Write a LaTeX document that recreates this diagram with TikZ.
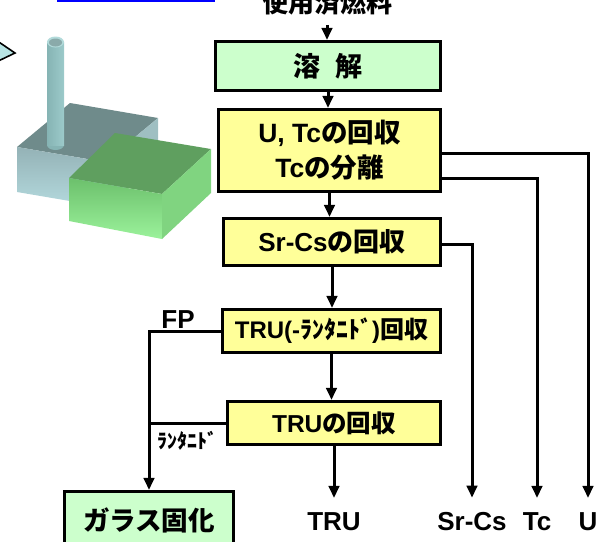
\documentclass[tikz,border=0pt]{standalone}
\usepackage{fontspec}
\setmainfont{Liberation Sans}
\newfontfamily\jp{Noto Sans CJK JP}
\usetikzlibrary{arrows.meta}
\definecolor{boxyellow}{HTML}{FFFF99}
\definecolor{boxgreen}{HTML}{CCFFCC}
\definecolor{linkblue}{HTML}{0000FF}
\definecolor{pointer}{HTML}{B8E4E4}
\definecolor{gtop}{HTML}{6F8B8B}
\definecolor{gfrontA}{HTML}{94B2B6}
\definecolor{gfrontB}{HTML}{B4DADE}
\definecolor{gside}{HTML}{9FBFC2}
\definecolor{ntop}{HTML}{5F9F5F}
\definecolor{nfrontA}{HTML}{6CC06C}
\definecolor{nfrontB}{HTML}{9BF29B}
\definecolor{nside}{HTML}{80D480}
\definecolor{cylL}{HTML}{86B4B4}
\definecolor{cylM}{HTML}{C6ECEC}
\definecolor{cylR}{HTML}{9CCACA}
\definecolor{cyltop}{HTML}{8AAAAA}
\newcommand\jj[1]{{\jp #1}}
\newcommand\fs[1]{\fontsize{#1}{#1}\selectfont\bfseries}

\begin{document}
\begin{tikzpicture}[x=1pt, y=-1pt,
  stepbox/.style={draw=black, line width=3.2pt, inner sep=0pt, align=center},
  yellowbox/.style={stepbox, fill=boxyellow},
  greenbox/.style={stepbox, fill=boxgreen},
  flow/.style={line width=3pt, -{Triangle[length=12pt, width=10.5pt]}},
  link/.style={line width=3pt},
  outlabel/.style={inner xsep=0pt, inner ysep=14pt, anchor=base, font=\fs{26}},
  tag/.style={inner sep=0pt}
]
\path[use as bounding box] (0,0) rectangle (597,541);
\clip (0,0) rectangle (597,541);

% link underline and pointer
\fill[linkblue] (57,0) rectangle (215,2);
\filldraw[fill=pointer, draw=black, line width=1.6pt, line join=miter]
  (-10,36) -- (15,53) -- (-10,65) -- cycle;

% plant: grey building
\fill[gtop] (17,147) -- (70,103) -- (158,118) -- (105,162) -- cycle;
\shade[top color=gfrontA, bottom color=gfrontB]
  (17,147) -- (105,162) -- (105,207) -- (17,192) -- cycle;
\fill[gside] (105,162) -- (158,118) -- (158,163) -- (105,207) -- cycle;

% plant: stack
\fill[cylL] (55.5,145) ellipse [x radius=8.5, y radius=5];
\shade[left color=cylL, middle color=cylM, right color=cylR]
  (47,42) rectangle (64,145);
\fill[cylM!70!cylL] (55.5,42) ellipse [x radius=8.5, y radius=5.5];
\fill[cyltop] (55.5,42.5) ellipse [x radius=6.5, y radius=4];

% plant: green building
\fill[ntop] (69,178) -- (115,133) -- (211,149) -- (162,194) -- cycle;
\shade[top color=nfrontA, bottom color=nfrontB]
  (69,178) -- (162,194) -- (162,239) -- (69,221) -- cycle;
\fill[nside] (162,194) -- (211,149) -- (211,193) -- (162,239) -- cycle;

% process steps
\node[anchor=base, inner xsep=0pt, inner ysep=10pt, font=\fs{26}] (src) at (327,12) {\jj{使用済燃料}};
\node[greenbox, minimum width=225pt, minimum height=49pt, font=\fs{27}] (dis) at (328,66) {\jj{溶\hspace{0.55em}解}};
\node[yellowbox, minimum width=222pt, minimum height=82pt, font=\fs{26.5}, execute at begin node={\baselineskip=35pt}] (utc) at (329.5,150.5)
  {U, Tc\jj{の回収}\\Tc\jj{の分離}};
\node[yellowbox, minimum width=217pt, minimum height=47pt, font=\fs{26}] (srcs) at (332,242) {Sr-Cs\jj{の回収}};
\node[yellowbox, minimum width=218pt, minimum height=43pt, font=\fs{24}] (trul) at (331.5,331) {TRU(-\jj{ﾗﾝﾀﾆﾄﾞ})\jj{回収}};
\node[yellowbox, minimum width=213pt, minimum height=43pt, font=\fs{24.5}] (tru) at (334,423) {TRU\jj{の回収}};
\node[greenbox, minimum width=169pt, minimum height=57pt, font=\fs{26.5}] (glass) at (149,520) {\jj{ガラス固化}};

% products
\node[outlabel] (oTRU) at (334,530) {TRU};
\node[outlabel] (oSrCs) at (472,530) {Sr-Cs};
\node[outlabel] (oTc) at (537,530) {Tc};
\node[outlabel] (oU) at (588,530) {U};

% stream tags
\node[tag, font=\fs{26}] (fp) at (178,320) {FP};
\node[tag, font=\fs{20}] (lan) at (187,441) {\jj{ﾗﾝﾀﾆﾄﾞ}};

% main flow
\draw[flow] (src.south) -- (src.south |- dis.north);
\draw[flow] (dis.south) -- (dis.south |- utc.north);
\draw[flow] (utc.south) -- (utc.south |- srcs.north);
\draw[flow] (srcs.south) -- (srcs.south |- trul.north);
\draw[flow] (trul.south) -- (trul.south |- tru.north);
\draw[flow] (tru.south) -- (tru.south |- oTRU.north);

% side streams
\draw[flow] ([yshift=-2.5pt]utc.east) -| (oU.north);
\draw[flow] ([yshift=-27.5pt]utc.east) -| (oTc.north);
\draw[flow] ([yshift=-2pt]srcs.east) -| (oSrCs.north);
\draw[flow] (trul.west) -| (glass.north);
\draw[link] (tru.west) -- (tru.west -| glass.north);
\end{tikzpicture}
\end{document}
